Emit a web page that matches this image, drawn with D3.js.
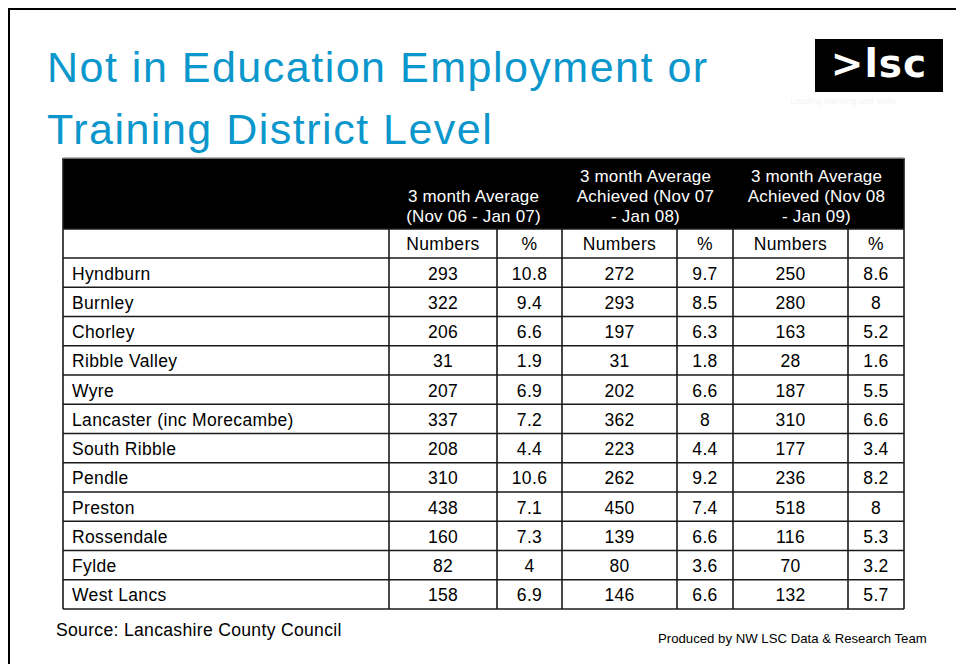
<!DOCTYPE html>
<html>
<head>
<meta charset="utf-8">
<script src="https://cdn.jsdelivr.net/npm/d3@7"></script>
<style>
	body { margin: 0; background: #fff; }
	svg { display: block; font-family: "Liberation Sans", Arial, sans-serif; }
</style>
</head>
<body>
<svg width="956" height="664"></svg>
<script>
// table values
var districts = ["Hyndburn", "Burnley", "Chorley", "Ribble Valley", "Wyre", "Lancaster (inc Morecambe)",
	"South Ribble", "Pendle", "Preston", "Rossendale", "Fylde", "West Lancs"];
var numbers0607 = ["293", "322", "206", "31", "207", "337", "208", "310", "438", "160", "82", "158"];
var pct0607 = ["10.8", "9.4", "6.6", "1.9", "6.9", "7.2", "4.4", "10.6", "7.1", "7.3", "4", "6.9"];
var numbers0708 = ["272", "293", "197", "31", "202", "362", "223", "262", "450", "139", "80", "146"];
var pct0708 = ["9.7", "8.5", "6.3", "1.8", "6.6", "8", "4.4", "9.2", "7.4", "6.6", "3.6", "6.6"];
var numbers0809 = ["250", "280", "163", "28", "187", "310", "177", "236", "518", "116", "70", "132"];
var pct0809 = ["8.6", "8", "5.2", "1.6", "5.5", "6.6", "3.4", "8.2", "8", "5.3", "3.2", "5.7"];
var groupLabels = [
	["3 month Average", "(Nov 06 - Jan 07)"],
	["3 month Average", "Achieved (Nov 07", "- Jan 08)"],
	["3 month Average", "Achieved (Nov 08", "- Jan 09)"]
];
var subLabels = ["Numbers", "%", "Numbers", "%", "Numbers", "%"];

var svg = d3.select("svg");
var blue = "#0b97cc";

// frame (left and top only)
svg.append("path")
	.attr("d", "M9,664V9H956")
	.attr("fill", "none")
	.attr("stroke", "#000")
	.attr("stroke-width", 2);

// title
var title = svg.append("g").attr("fill", blue).attr("font-size", 43).style("letter-spacing", "1.5px");
title.append("text").attr("x", 47).attr("y", 82).text("Not in Education Employment or");
title.append("text").attr("x", 47).attr("y", 144).text("Training District Level");

// logo
svg.append("rect").attr("x", 815).attr("y", 39).attr("width", 128).attr("height", 53).attr("fill", "#000");
svg.append("text")
	.attr("x", 879).attr("y", 77)
	.attr("text-anchor", "middle")
	.attr("fill", "#fff")
	.attr("font-family", "'DejaVu Sans', sans-serif")
	.attr("font-weight", "bold")
	.attr("font-size", 39)
	.style("letter-spacing", "1px")
	.text(">lsc");
svg.append("text")
	.attr("x", 790).attr("y", 104)
	.attr("fill", "#f4f4f4")
	.attr("font-size", 9)
	.text("Leading learning and skills");

// table layout
var colEdges = [63, 389, 497, 562, 677, 733, 848, 904];
var headTop = 158, headBottom = 229, subBottom = 258, tableBottom = 609;

var y = d3.scaleBand()
	.domain(districts)
	.range([subBottom, tableBottom]);

var columns = [numbers0607, pct0607, numbers0708, pct0708, numbers0809, pct0809];

// header block
svg.append("rect")
	.attr("x", colEdges[0]).attr("y", headTop)
	.attr("width", colEdges[7] - colEdges[0]).attr("height", headBottom - headTop)
	.attr("fill", "#000");

var fs = 17.5;
var head = svg.append("g").attr("fill", "#fff").attr("font-size", 17).attr("text-anchor", "middle")
	.style("letter-spacing", "0.2px");
groupLabels.forEach(function(lines, g) {
	var cx = (colEdges[1 + g * 2] + colEdges[3 + g * 2]) / 2 - 2;
	var start = 222 - (lines.length - 1) * 20;
	lines.forEach(function(l, i) {
		head.append("text").attr("x", cx).attr("y", start + i * 20).text(l);
	});
});

// body text
var body = svg.append("g").attr("fill", "#000").attr("font-size", fs).style("letter-spacing", "0.35px");
subLabels.forEach(function(s, i) {
	body.append("text")
		.attr("x", (colEdges[i + 1] + colEdges[i + 2]) / 2)
		.attr("y", 250)
		.attr("text-anchor", "middle")
		.text(s);
});

body.selectAll("text.name")
	.data(districts)
	.enter().append("text")
	.attr("class", "name")
	.attr("x", 72)
	.attr("y", function(d) { return y(d) + y.bandwidth() / 2 + 7; })
	.text(function(d) { return d; });

columns.forEach(function(col, c) {
	body.selectAll("text.c" + c)
		.data(col)
		.enter().append("text")
		.attr("class", "c" + c)
		.attr("x", (colEdges[c + 1] + colEdges[c + 2]) / 2)
		.attr("y", function(d, i) { return y(districts[i]) + y.bandwidth() / 2 + 7; })
		.attr("text-anchor", "middle")
		.text(function(d) { return d; });
});

// grid lines
var grid = svg.append("g").attr("stroke", "#1a1a1a").attr("stroke-width", 1.6).attr("fill", "none");
var hLines = [headBottom, subBottom].concat(districts.map(function(d) { return y(d) + y.bandwidth(); }));
hLines.forEach(function(v) {
	grid.append("line").attr("x1", colEdges[0]).attr("x2", colEdges[7]).attr("y1", v).attr("y2", v);
});
colEdges.forEach(function(v, i) {
	grid.append("line").attr("x1", v).attr("x2", v)
		.attr("y1", (i === 0 || i === 7) ? headTop : headBottom)
		.attr("y2", tableBottom);
});
grid.append("line").attr("x1", colEdges[0]).attr("x2", colEdges[7]).attr("y1", headTop).attr("y2", headTop)
	.attr("stroke", "#999");

// footer
svg.append("text").attr("x", 56).attr("y", 636).attr("font-size", 17.6).style("letter-spacing", "0.3px")
	.text("Source: Lancashire County Council");
svg.append("text").attr("x", 658).attr("y", 643).attr("font-size", 13.2)
	.text("Produced by NW LSC Data & Research Team");
</script>
</body>
</html>
